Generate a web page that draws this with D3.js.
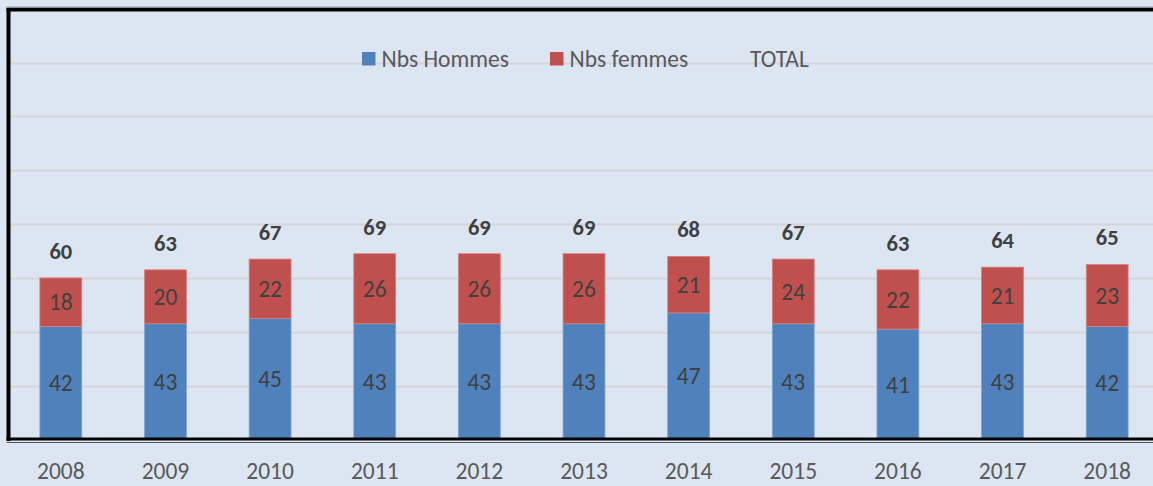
<!DOCTYPE html>
<html>
<head>
<meta charset="utf-8">
<script src="https://cdn.jsdelivr.net/npm/d3@7"></script>
<style>
  html, body { margin: 0; padding: 0; background: #dce6f2; }
  svg { display: block; }
  text { font-family: Carlito, Calibri, Lato, "Open Sans", sans-serif; }
</style>
</head>
<body>
<svg id="chart" width="1153" height="486"></svg>
<script>
const years = ["2008","2009","2010","2011","2012","2013","2014","2015","2016","2017","2018"];
const hommes = [42, 43, 45, 43, 43, 43, 47, 43, 41, 43, 42];
const femmes = [18, 20, 22, 26, 26, 26, 21, 24, 22, 21, 23];
const totals = [60, 63, 67, 69, 69, 69, 68, 67, 63, 64, 65];
const seriesNames = ["Nbs Hommes", "Nbs femmes", "TOTAL"];
const yTicks = [0, 20, 40, 60, 80, 100, 120, 140];

const W = 1153, H = 486;
const svg = d3.select("#chart");
const colors = { "Nbs Hommes": "#4f81bd", "Nbs femmes": "#c0504d" };

const plot = { left: 8.5, top: 9.5, right: 1159.5, bottom: 439.5 };

const x = d3.scaleBand().domain(years).range([plot.left, plot.right]).paddingInner(0.6).paddingOuter(0.3);
const y = d3.scaleLinear().domain([0, 140]).range([plot.bottom, 62.5]);

svg.append("rect").attr("x", 0).attr("y", 0).attr("width", W).attr("height", H).attr("fill", "#dce6f2");

// gridlines
svg.append("g").selectAll("line").data(yTicks.filter(d => d > 0)).join("line")
  .attr("x1", plot.left + 2).attr("x2", W)
  .attr("y1", d => Math.round(y(d)) + 0.5).attr("y2", d => Math.round(y(d)) + 0.5)
  .attr("stroke", "#d8d3d8").attr("stroke-width", 2);

const rows = years.map((yr, i) => ({ year: yr, "Nbs Hommes": hommes[i], "Nbs femmes": femmes[i], total: totals[i] }));
const stack = d3.stack().keys(["Nbs Hommes", "Nbs femmes"])(rows);

const g = svg.append("g");
stack.forEach(layer => {
  g.append("g").selectAll("rect").data(layer).join("rect")
    .attr("x", d => x(d.data.year))
    .attr("width", x.bandwidth())
    .attr("y", d => y(d[1]))
    .attr("height", d => y(d[0]) - y(d[1]))
    .attr("fill", colors[layer.key])
    .attr("stroke", layer.key === "Nbs Hommes" ? "#7fa3d1" : "#d6827f")
    .attr("stroke-width", 0.8);
  g.append("g").selectAll("text").data(layer).join("text")
    .attr("x", d => x(d.data.year) + x.bandwidth() / 2)
    .attr("y", d => (y(d[0]) + y(d[1])) / 2)
    .attr("dy", "0.35em")
    .attr("text-anchor", "middle")
    .attr("font-size", 23.5)
    .attr("fill", "#404040")
    .text(d => d[1] - d[0]);
});

// totals
g.append("g").selectAll("text").data(rows).join("text")
  .attr("x", d => x(d.year) + x.bandwidth() / 2)
  .attr("y", d => y(d.total) - 27)
  .attr("dy", "0.35em")
  .attr("text-anchor", "middle")
  .attr("font-size", 22.5)
  .attr("font-weight", "bold")
  .attr("fill", "#404040")
  .text(d => d.total);

// borders
svg.append("line").attr("x1", 8.5).attr("x2", 8.5).attr("y1", 8).attr("y2", 441)
  .attr("stroke", "#000").attr("stroke-width", 4);
svg.append("line").attr("x1", 6.5).attr("x2", W).attr("y1", 9.5).attr("y2", 9.5)
  .attr("stroke", "#000").attr("stroke-width", 4);
svg.append("line").attr("x1", 6.5).attr("x2", W).attr("y1", 7).attr("y2", 7)
  .attr("stroke", "#9aa3ad").attr("stroke-width", 1);
// bottom axis (double line)
svg.append("line").attr("x1", 6.5).attr("x2", W).attr("y1", 439).attr("y2", 439)
  .attr("stroke", "#000").attr("stroke-width", 3);
svg.append("line").attr("x1", 6.5).attr("x2", W).attr("y1", 442.5).attr("y2", 442.5)
  .attr("stroke", "#555").attr("stroke-width", 1.2);

// x axis labels
const xAxis = d3.axisBottom(x).tickSize(0).tickPadding(0);
const ax = svg.append("g").attr("transform", `translate(0, ${471})`).call(xAxis);
ax.select(".domain").remove();
ax.selectAll("text")
  .attr("font-size", 23.5)
  .attr("fill", "#595959")
  .attr("dy", "0.35em")
  .attr("y", 0)
  .style("font-family", "Carlito, Calibri, Lato, 'Open Sans', sans-serif");

// legend
const legend = svg.append("g");
const legX = [362, 550, 750];
seriesNames.forEach((name, i) => {
  const lg = legend.append("g").attr("transform", `translate(${legX[i]}, 52)`);
  if (colors[name]) {
    lg.append("rect").attr("width", 13.5).attr("height", 13.5).attr("fill", colors[name]);
  }
  lg.append("text")
    .attr("x", colors[name] ? 19.5 : 0)
    .attr("y", 7)
    .attr("dy", "0.35em")
    .attr("font-size", 23.5)
    .attr("fill", "#595959")
    .text(name);
});
</script>
</body>
</html>
